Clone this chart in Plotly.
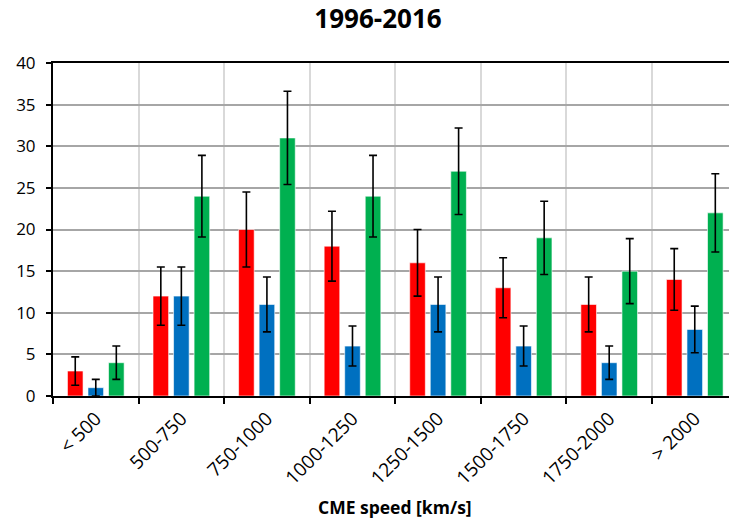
import plotly.graph_objects as go

categories = ["< 500", "500-750", "750-1000", "1000-1250", "1250-1500", "1500-1750", "1750-2000", "> 2000"]
red_vals = [3, 12, 20, 18, 16, 13, 11, 14]
blue_vals = [1, 12, 11, 6, 11, 6, 4, 8]
green_vals = [4, 24, 31, 24, 27, 19, 15, 22]
red_err = [1.7, 3.5, 4.5, 4.2, 4.0, 3.6, 3.3, 3.7]
blue_err = [1.0, 3.5, 3.3, 2.4, 3.3, 2.4, 2.0, 2.8]
green_err = [2.0, 4.9, 5.6, 4.9, 5.2, 4.4, 3.9, 4.7]
y_ticks = [0, 5, 10, 15, 20, 25, 30, 35, 40]

FONT = "Open Sans"
W, H = 729, 523

fig = go.Figure()
for vals, errs, color in [(red_vals, red_err, "#FF0000"),
                          (blue_vals, blue_err, "#0070C0"),
                          (green_vals, green_err, "#00B050")]:
    fig.add_trace(go.Bar(
        x=categories, y=vals, marker=dict(color=color, line=dict(color="rgba(255,255,255,0.6)", width=1)),
        error_y=dict(type="data", array=errs, visible=True, color="black", thickness=1.6, width=4),
        showlegend=False,
    ))

fig.update_layout(
    width=W, height=H,
    margin=dict(l=53, r=0, t=63, b=127, autoexpand=False),
    paper_bgcolor="white", plot_bgcolor="white",
    barmode="group", bargap=0.28, bargroupgap=0.24,
    font=dict(family=FONT, size=16, color="black"),
    title=dict(text="<b>1996-2016</b>", x=378 / W, xanchor="center", y=1 - 19 / H, yanchor="middle",
               font=dict(family=FONT, size=26, color="black")),
    annotations=[dict(text="<b>CME speed [km/s]</b>", xref="paper", yref="paper",
                      x=(395 - 53) / (W - 53), y=-(507 - 396) / (396 - 63),
                      xanchor="center", yanchor="middle", showarrow=False,
                      font=dict(family=FONT, size=17.5, color="black"))],
)
fig.update_xaxes(
    range=[-0.5, 7.4], tickson="boundaries", ticks="outside", ticklen=6, tickcolor="black", tickwidth=1.5,
    showgrid=True, gridcolor="#d9d9d9", gridwidth=1.5,
    showline=True, linecolor="black", linewidth=2, mirror=True, ticklabelstandoff=2,
    tickangle=-45, tickfont=dict(family=FONT, size=19), automargin=False,
)
fig.update_yaxes(
    range=[0, 40], tickvals=y_ticks, ticks="outside", ticklen=5, tickcolor="black", tickwidth=1.5,
    showgrid=True, gridcolor="#a6a6a6", gridwidth=1.5,
    showline=True, linecolor="black", linewidth=2, ticklabelstandoff=7,
    tickfont=dict(family=FONT, size=17), zeroline=False, automargin=False,
)

fig.write_html("out.html", config={"displayModeBar": False},
               post_script="document.body.style.margin='0';document.body.style.overflow='hidden';")
